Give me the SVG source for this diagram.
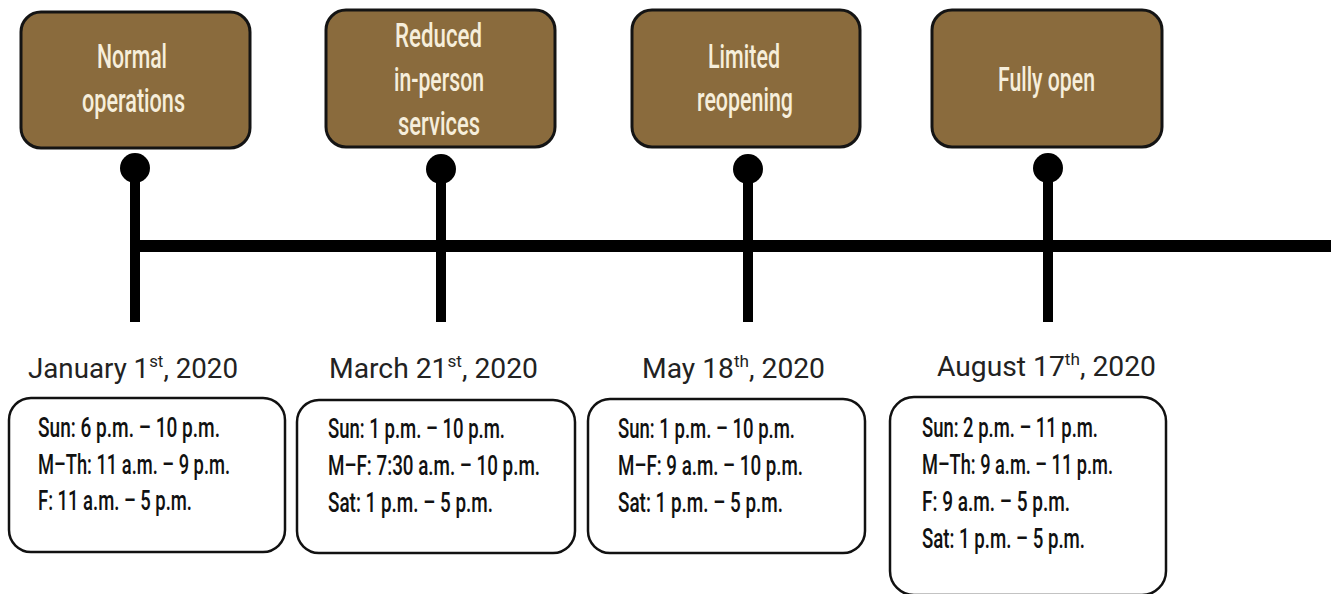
<svg xmlns="http://www.w3.org/2000/svg" width="1331" height="594" viewBox="0 0 1331 594">
<style>
.phase{fill:#8a6b3d;stroke:#141414;stroke-width:3}
.ptxt{font-family:Roboto,"Liberation Sans",sans-serif;font-weight:500;font-size:33px;fill:#f6eedb;text-anchor:start}
.date{font-family:Roboto,"Liberation Sans",sans-serif;font-size:28px;fill:#222}
.sup{font-size:17px}
.info{fill:#fff;stroke:#111;stroke-width:2.5}
.itxt{font-family:Roboto,"Liberation Sans",sans-serif;font-weight:500;font-size:28px;fill:#111}
.stem{stroke:#000;stroke-width:10;fill:none}
.axis{stroke:#000;stroke-width:12;fill:none}
</style>
<rect width="1331" height="594" fill="#fff"/>
<g id="connectors">
<line class="axis" x1="130" y1="246" x2="1331" y2="246"/>
<line class="stem" x1="135" y1="168" x2="135" y2="322"/>
<line class="stem" x1="441" y1="168" x2="441" y2="322"/>
<line class="stem" x1="748" y1="168" x2="748" y2="322"/>
<line class="stem" x1="1048" y1="168" x2="1048" y2="322"/>
<circle cx="135" cy="168" r="15" fill="#000"/>
<circle cx="441" cy="169" r="15" fill="#000"/>
<circle cx="748" cy="169" r="15" fill="#000"/>
<circle cx="1048" cy="168" r="15" fill="#000"/>
</g>
<g id="phase-normal">
<rect class="phase" x="21" y="12" width="229" height="136" rx="20"/>
<text class="ptxt" x="97" y="68" textLength="70" lengthAdjust="spacingAndGlyphs">Normal</text>
<text class="ptxt" x="82" y="112" textLength="103" lengthAdjust="spacingAndGlyphs">operations</text>
</g>
<g id="phase-reduced">
<rect class="phase" x="326" y="10" width="229" height="137" rx="20"/>
<text class="ptxt" x="395" y="47" textLength="87" lengthAdjust="spacingAndGlyphs">Reduced</text>
<text class="ptxt" x="394" y="91" textLength="90" lengthAdjust="spacingAndGlyphs">in-person</text>
<text class="ptxt" x="398" y="135" textLength="82" lengthAdjust="spacingAndGlyphs">services</text>
</g>
<g id="phase-limited">
<rect class="phase" x="632" y="10" width="228" height="137" rx="20"/>
<text class="ptxt" x="708" y="68" textLength="72" lengthAdjust="spacingAndGlyphs">Limited</text>
<text class="ptxt" x="697" y="111" textLength="96" lengthAdjust="spacingAndGlyphs">reopening</text>
</g>
<g id="phase-full">
<rect class="phase" x="932" y="10" width="230" height="137" rx="20"/>
<text class="ptxt" x="998" y="91" textLength="97" lengthAdjust="spacingAndGlyphs">Fully open</text>
</g>
<g id="hours-jan">
<text class="date" x="28" y="378" textLength="210" lengthAdjust="spacingAndGlyphs">January 1<tspan class="sup" dy="-11">st</tspan><tspan dy="11">, 2020</tspan></text>
<rect class="info" x="9" y="398" width="276" height="154" rx="22"/>
<text class="itxt" x="38" y="437" textLength="182" lengthAdjust="spacingAndGlyphs">Sun: 6 p.m. – 10 p.m.</text>
<text class="itxt" x="38" y="474" textLength="192" lengthAdjust="spacingAndGlyphs">M–Th: 11 a.m. – 9 p.m.</text>
<text class="itxt" x="38" y="510" textLength="154" lengthAdjust="spacingAndGlyphs">F: 11 a.m. – 5 p.m.</text>
</g>
<g id="hours-mar">
<text class="date" x="329" y="378" textLength="209" lengthAdjust="spacingAndGlyphs">March 21<tspan class="sup" dy="-11">st</tspan><tspan dy="11">, 2020</tspan></text>
<rect class="info" x="297" y="400" width="278" height="153" rx="22"/>
<text class="itxt" x="328" y="438" textLength="177" lengthAdjust="spacingAndGlyphs">Sun: 1 p.m. – 10 p.m.</text>
<text class="itxt" x="328" y="475" textLength="212" lengthAdjust="spacingAndGlyphs">M–F: 7:30 a.m. – 10 p.m.</text>
<text class="itxt" x="328" y="512" textLength="165" lengthAdjust="spacingAndGlyphs">Sat: 1 p.m. – 5 p.m.</text>
</g>
<g id="hours-may">
<text class="date" x="642" y="378" textLength="183" lengthAdjust="spacingAndGlyphs">May 18<tspan class="sup" dy="-11">th</tspan><tspan dy="11">, 2020</tspan></text>
<rect class="info" x="588" y="399" width="277" height="154" rx="22"/>
<text class="itxt" x="618" y="438" textLength="177" lengthAdjust="spacingAndGlyphs">Sun: 1 p.m. – 10 p.m.</text>
<text class="itxt" x="618" y="475" textLength="185" lengthAdjust="spacingAndGlyphs">M–F: 9 a.m. – 10 p.m.</text>
<text class="itxt" x="618" y="512" textLength="165" lengthAdjust="spacingAndGlyphs">Sat: 1 p.m. – 5 p.m.</text>
</g>
<g id="hours-aug">
<text class="date" x="937" y="376" textLength="219" lengthAdjust="spacingAndGlyphs">August 17<tspan class="sup" dy="-11">th</tspan><tspan dy="11">, 2020</tspan></text>
<rect class="info" x="890" y="397" width="276" height="198" rx="24"/>
<text class="itxt" x="922" y="437" textLength="176" lengthAdjust="spacingAndGlyphs">Sun: 2 p.m. – 11 p.m.</text>
<text class="itxt" x="922" y="474" textLength="191" lengthAdjust="spacingAndGlyphs">M–Th: 9 a.m. – 11 p.m.</text>
<text class="itxt" x="922" y="511" textLength="148" lengthAdjust="spacingAndGlyphs">F: 9 a.m. – 5 p.m.</text>
<text class="itxt" x="922" y="548" textLength="163" lengthAdjust="spacingAndGlyphs">Sat: 1 p.m. – 5 p.m.</text>
</g>
</svg>
